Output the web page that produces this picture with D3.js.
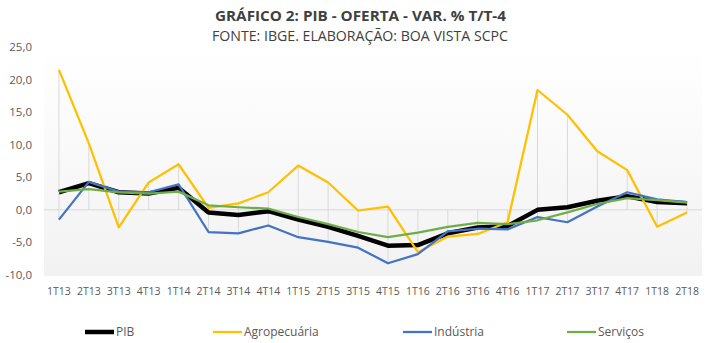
<!DOCTYPE html>
<html><head><meta charset="utf-8">
<script src="https://cdn.jsdelivr.net/npm/d3@7"></script>
<style>body{margin:0;background:#fff;} svg{display:block;font-family:"Open Sans",sans-serif;}</style>
</head><body>
<svg id="c" width="726" height="343"></svg>
<script>
const categories = ["1T13","2T13","3T13","4T13","1T14","2T14","3T14","4T14","1T15","2T15","3T15","4T15","1T16","2T16","3T16","4T16","1T17","2T17","3T17","4T17","1T18","2T18"];
const pib = [2.7,4.1,2.7,2.5,3.4,-0.4,-0.8,-0.2,-1.5,-2.6,-4.0,-5.5,-5.4,-3.6,-2.7,-2.5,0.0,0.4,1.4,2.1,1.2,1.0];
const agro = [21.5,10.2,-2.7,4.2,7.0,0.3,1.0,2.7,6.8,4.2,-0.1,0.5,-6.5,-4.1,-3.7,-1.9,18.4,14.6,9.0,6.1,-2.6,-0.4];
const industria = [-1.5,4.3,2.8,2.7,3.9,-3.4,-3.6,-2.4,-4.2,-4.9,-5.8,-8.2,-6.8,-3.3,-2.9,-3.0,-1.1,-1.9,0.5,2.7,1.6,1.2];
const servicos = [2.8,3.2,2.7,2.5,2.8,0.7,0.4,0.2,-1.1,-2.2,-3.4,-4.2,-3.5,-2.6,-2.0,-2.2,-1.6,-0.4,0.9,1.8,1.5,1.1];
const yTicks = [25,20,15,10,5,0,-5,-10];
const title = "GRÁFICO 2: PIB - OFERTA - VAR. % T/T-4";
const subtitle = "FONTE: IBGE. ELABORAÇÃO: BOA VISTA SCPC";

const series = [
  {name:"PIB", values:pib, color:"#000000", width:4.5},
  {name:"Agropecuária", values:agro, color:"#FFC000", width:2.25},
  {name:"Indústria", values:industria, color:"#4472C4", width:2.25},
  {name:"Serviços", values:servicos, color:"#70AD47", width:2.25}
];

const svg = d3.select("#c");
const L = 44, R = 702, T = 47, B = 275;
const x = d3.scaleBand().domain(categories).range([L, R]);
const y = d3.scaleLinear().domain([-10, 25]).range([B, T]);
const cx = c => x(c) + x.bandwidth()/2;

const defs = svg.append("defs");
const g = defs.append("linearGradient").attr("id","bg").attr("x1",0).attr("y1",0).attr("x2",0).attr("y2",1);
g.append("stop").attr("offset","0%").attr("stop-color","#ffffff");
g.append("stop").attr("offset","100%").attr("stop-color","#f2f2f2");
svg.append("rect").attr("x",L).attr("y",T).attr("width",R-L).attr("height",B-T+1).attr("fill","url(#bg)");

// title
svg.append("text").attr("x",360.5).attr("y",21).attr("text-anchor","middle")
  .attr("font-size",15).attr("font-weight","bold").attr("fill","#404040")
  .attr("textLength",291).attr("lengthAdjust","spacingAndGlyphs").text(title);
svg.append("text").attr("x",360).attr("y",41).attr("text-anchor","middle")
  .attr("font-size",14).attr("fill","#404040")
  .attr("textLength",296).attr("lengthAdjust","spacingAndGlyphs").text(subtitle);

// y axis labels
const fmt = v => d3.format(".1f")(v).replace(".",",").replace("−","-");
svg.append("g").selectAll("text").data(yTicks).join("text")
  .attr("x",32).attr("y",d=>y(d)).attr("dy","0.35em").attr("text-anchor","end")
  .attr("font-size",11.5).attr("fill","#595959").text(fmt);

// zero line
svg.append("line").attr("x1",L).attr("x2",R).attr("y1",y(0)).attr("y2",y(0))
  .attr("stroke","#d9d9d9").attr("stroke-width",1);

// drop lines (from value extent to axis)
svg.append("g").selectAll("line").data(categories).join("line")
  .attr("x1",cx).attr("x2",cx)
  .attr("y1",(c,i)=>y(Math.max(0, ...series.map(s=>s.values[i]))))
  .attr("y2",(c,i)=>y(Math.min(0, ...series.map(s=>s.values[i]))))
  .attr("stroke","#d9d9d9").attr("stroke-width",1);

// x labels
svg.append("g").selectAll("text").data(categories).join("text")
  .attr("x",cx).attr("y",295).attr("text-anchor","middle")
  .attr("font-size",10.5).attr("fill","#595959").text(d=>d);

// lines
const line = d3.line().x((d,i)=>cx(categories[i])).y(d=>y(d));
svg.append("g").selectAll("path").data(series).join("path")
  .attr("d",s=>line(s.values)).attr("fill","none")
  .attr("stroke",s=>s.color).attr("stroke-width",s=>s.width)
  .attr("stroke-linejoin","round");

// legend
const legX = [85, 213, 403, 567];
const lg = svg.append("g").selectAll("g").data(series).join("g")
  .attr("transform",(s,i)=>`translate(${legX[i]},332)`);
lg.append("line").attr("x1",0).attr("x2",29).attr("y1",0).attr("y2",0)
  .attr("stroke",s=>s.color).attr("stroke-width",s=>s.width);
lg.append("text").attr("x",31).attr("dy","0.35em").attr("font-size",12)
  .attr("fill","#595959").text(s=>s.name);
</script>
</body></html>
